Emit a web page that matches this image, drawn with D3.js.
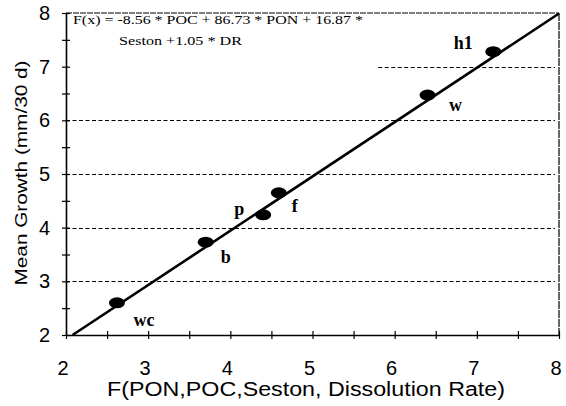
<!DOCTYPE html>
<html><head><meta charset="utf-8">
<script src="https://cdn.jsdelivr.net/npm/d3@7"></script>
<style>body{margin:0;background:#fff}svg{display:block}</style>
</head><body>
<svg id="c" width="566" height="406"></svg>
<script>
const sites = ["wc","b","p","f","w","h1"];
const fx = [2.62, 3.70, 4.40, 4.59, 6.40, 7.20];
const growth = [2.60, 3.73, 4.24, 4.65, 6.47, 7.28];
const xTicks = [2,3,4,5,6,7,8];
const yTicks = [2,3,4,5,6,7,8];
const gridLevels = [3,4,5,6,7];
const gridStart = [2,2,2,2,5.8];
const fitLine = [[2.08,2.0],[8.0,7.99]];
const equation = ["F(x) = -8.56 * POC + 86.73 * PON + 16.87 *", "Seston +1.05 * DR"];
const labelOffsets = [[27,23],[20,21],[-24,0],[16,19],[28,16],[-30,-3]];

const svg = d3.select("#c");
const x = d3.scaleLinear().domain([2,8]).range([66,559]);
const y = d3.scaleLinear().domain([2,8]).range([335,13]);

// gridlines
svg.append("g").selectAll("line").data(gridLevels).join("line")
  .attr("x1",(d,i)=>x(gridStart[i])).attr("x2",x(7.95))
  .attr("y1",d=>Math.round(y(d))+0.5).attr("y2",d=>Math.round(y(d))+0.5)
  .attr("stroke","#000").attr("stroke-width",1).attr("stroke-dasharray","4,2.5");

// frame top & right
svg.append("line").attr("x1",x(2)).attr("x2",x(8)).attr("y1",y(8)).attr("y2",y(8))
  .attr("stroke","#000").attr("stroke-width",1.2).attr("stroke-dasharray","6,1");
svg.append("line").attr("x1",x(8)).attr("x2",x(8)).attr("y1",y(8)).attr("y2",y(2))
  .attr("stroke","#000").attr("stroke-width",1.2).attr("stroke-dasharray","8,1");

// axes
const xAxis = d3.axisBottom(x).tickValues(d3.range(2,8.01,0.5)).tickSize(0).tickFormat("");
const gx = svg.append("g").attr("transform",`translate(0,${y(2)})`).call(xAxis);
gx.select(".domain").attr("stroke-width",1.6);
gx.selectAll(".tick line").attr("y1",-4).attr("y2",4).attr("stroke-width",1.2);
const yAxis = d3.axisLeft(y).tickValues(d3.range(2,8.01,0.5)).tickSize(0).tickFormat("");
const gy = svg.append("g").attr("transform",`translate(${x(2)},0)`).call(yAxis);
gy.select(".domain").attr("stroke-width",1.6);
gy.selectAll(".tick line").attr("x1",-4).attr("x2",4).attr("stroke-width",1.2);

// tick labels
svg.append("g").selectAll("text").data(xTicks).join("text")
  .attr("x",d=>x(d)-3).attr("y",375).attr("text-anchor","middle")
  .attr("font-family","Liberation Sans, Arial, sans-serif").attr("font-size",20).text(d=>d);
svg.append("g").selectAll("text").data(yTicks).join("text")
  .attr("x",50).attr("y",d=>y(d)+7).attr("text-anchor","end")
  .attr("font-family","Liberation Sans, Arial, sans-serif").attr("font-size",20).text(d=>d);

// axis titles
svg.append("text").attr("x",306).attr("y",396).attr("text-anchor","middle")
  .attr("font-family","Liberation Sans, Arial, sans-serif").attr("font-size",20)
  .attr("textLength",398).attr("lengthAdjust","spacingAndGlyphs")
  .text("F(PON,POC,Seston, Dissolution Rate)");
svg.append("text").attr("transform","translate(27,173) rotate(-90)").attr("text-anchor","middle")
  .attr("font-family","Liberation Sans, Arial, sans-serif").attr("font-size",17)
  .attr("textLength",225).attr("lengthAdjust","spacingAndGlyphs")
  .text("Mean Growth (mm/30 d)");

// regression line
svg.append("path").datum(fitLine)
  .attr("d",d3.line().x(d=>x(d[0])).y(d=>y(d[1])))
  .attr("stroke","#000").attr("stroke-width",2.6).attr("fill","none");

// points
svg.append("g").selectAll("ellipse").data(fx).join("ellipse")
  .attr("cx",d=>x(d)).attr("cy",(d,i)=>y(growth[i]))
  .attr("rx",8).attr("ry",5.5).attr("fill","#000");

// point labels
svg.append("g").selectAll("text").data(sites).join("text")
  .attr("x",(d,i)=>x(fx[i])+labelOffsets[i][0])
  .attr("y",(d,i)=>y(growth[i])+labelOffsets[i][1])
  .attr("text-anchor","middle")
  .attr("font-family","Liberation Serif, Times New Roman, serif").attr("font-weight","bold")
  .attr("font-size",18).text(d=>d);

// equation
svg.append("text").attr("x",73).attr("y",24)
  .attr("font-family","Liberation Serif, Times New Roman, serif").attr("font-size",13.5)
  .attr("textLength",290).attr("lengthAdjust","spacingAndGlyphs").text(equation[0]);
svg.append("text").attr("x",119).attr("y",45)
  .attr("font-family","Liberation Serif, Times New Roman, serif").attr("font-size",13.5)
  .attr("textLength",123).attr("lengthAdjust","spacingAndGlyphs").text(equation[1]);
</script>
</body></html>
